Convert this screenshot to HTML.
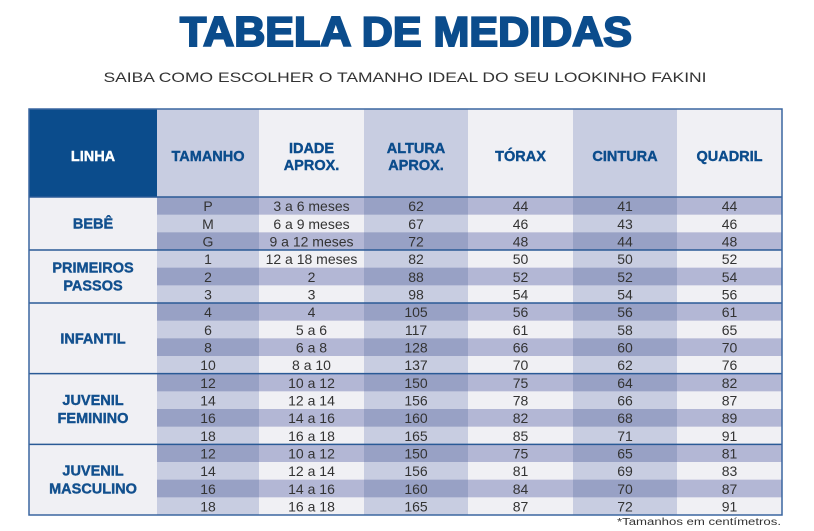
<!DOCTYPE html>
<html><head><meta charset="utf-8"><style>
body{margin:0;background:#fff;width:814px;height:531px;overflow:hidden}
svg{display:block;font-family:"Liberation Sans",sans-serif}
</style></head><body>
<svg id="s" width="814" height="531" viewBox="0 0 814 531">
<text x="406" y="46" text-anchor="middle" font-size="42" font-weight="bold" fill="#0b4c8c" textLength="452" lengthAdjust="spacingAndGlyphs" stroke="#0b4c8c" stroke-width="2">TABELA DE MEDIDAS</text>
<text x="405" y="82" text-anchor="middle" font-size="14" fill="#333" textLength="603" lengthAdjust="spacingAndGlyphs">SAIBA COMO ESCOLHER O TAMANHO IDEAL DO SEU LOOKINHO FAKINI</text>
<text x="781" y="525" text-anchor="end" font-size="10" fill="#333" textLength="164" lengthAdjust="spacingAndGlyphs">*Tamanhos em centímetros.</text>
</svg>
<script>
const headers=[["TAMANHO"],["IDADE","APROX."],["ALTURA","APROX."],["TÓRAX"],["CINTURA"],["QUADRIL"]];
const groups=[["BEBÊ"],["PRIMEIROS","PASSOS"],["INFANTIL"],["JUVENIL","FEMININO"],["JUVENIL","MASCULINO"]];
const groupSizes=[3,3,4,4,4];
const tamanho=["P","M","G","1","2","3","4","6","8","10","12","14","16","18","12","14","16","18"];
const idade=["3 a 6 meses","6 a 9 meses","9 a 12 meses","12 a 18 meses","2","3","4","5 a 6","6 a 8","8 a 10","10 a 12","12 a 14","14 a 16","16 a 18","10 a 12","12 a 14","14 a 16","16 a 18"];
const altura=[62,67,72,82,88,98,105,117,128,137,150,156,160,165,150,156,160,165];
const torax=[44,46,48,50,52,54,56,61,66,70,75,78,82,85,75,81,84,87];
const cintura=[41,43,44,50,52,54,56,58,60,62,64,66,68,71,65,69,70,72];
const quadril=[44,46,48,52,54,56,61,65,70,76,82,87,89,91,81,83,87,91];
const cols=[tamanho,idade,altura,torax,cintura,quadril];
const colNames=['tamanho','idade','altura','torax','cintura','quadril'];
const s=document.getElementById('s');
const NS='http://www.w3.org/2000/svg';
function el(t,a,p){const e=document.createElementNS(NS,t);for(const k in a)e.setAttribute(k,a[k]);(p||s).appendChild(e);return e;}
const X=[29,157,259,364,468,573,677,782];
const top0=109,hb=197,rh=(515-197)/tamanho.length;
let r=el('rect',{x:29,y:top0,width:128,height:hb-top0,fill:'#0b4c8c'});


let t=el('text',{x:93,y:161,'text-anchor':'middle','font-size':14.5,'font-weight':'bold',fill:'#fff',stroke:'#fff','stroke-width':0.4});t.textContent='LINHA';


headers.forEach((h,i)=>{
  const x0=X[i+1],x1=X[i+2],odd=i%2==0;
  const b=el('rect',{x:x0,y:top0,width:x1-x0,height:hb-top0,fill:odd?'#c8cde1':'#f0f0f4'});
  
  
  h.forEach((ln,j)=>{
    const tt=el('text',{x:(x0+x1)/2,y:(h.length==1?161:153+j*17),'text-anchor':'middle','font-size':14.5,'font-weight':'bold',fill:'#0b4c8c',stroke:'#0b4c8c','stroke-width':0.4});
    tt.textContent=ln;
    
    
  });
});
for(let r2=0;r2<tamanho.length;r2++){
  const y=hb+r2*rh,dark=r2%2==0;
  cols.forEach((c,i)=>{
    const x0=X[i+1],x1=X[i+2],odd=i%2==0;
    const fill=dark?(odd?'#98a1c5':'#b3b7d5'):(odd?'#c8cde1':'#f0f0f4');
    const b=el('rect',{x:x0,y:y,width:x1-x0,height:rh+0.5,fill:fill});
    
    
    const tt=el('text',{x:(x0+x1)/2,y:y+rh-3.5,'text-anchor':'middle','font-size':14,fill:'#333'});
    tt.textContent=c[r2];
    
    
  });
}
let start=0;
groups.forEach((g,i)=>{
  const y0=hb+start*rh,y1=hb+(start+groupSizes[i])*rh;
  const b=el('rect',{x:29,y:y0,width:128,height:y1-y0,fill:'#f0f0f4'});
  
  
  const mid=(y0+y1)/2;
  g.forEach((ln,j)=>{
    const tt=el('text',{x:93,y:mid+5+(g.length==1?0:(j-0.5)*18),'text-anchor':'middle','font-size':14.5,'font-weight':'bold',fill:'#12508e',stroke:'#12508e','stroke-width':0.4});
    tt.textContent=ln;
    
    
  });
  if(i>0){const l=el('line',{x1:29,x2:782,y1:y0,y2:y0,stroke:'#2a5a96','stroke-width':1.5});
    
    }
  start+=groupSizes[i];
});
let l=el('line',{x1:29,x2:782,y1:hb,y2:hb,stroke:'#2a5a96','stroke-width':1.5});


const bd=el('rect',{x:29,y:top0,width:753,height:515-top0,fill:'none',stroke:'#3a66a0','stroke-width':1.5});


</script>
</body></html>
